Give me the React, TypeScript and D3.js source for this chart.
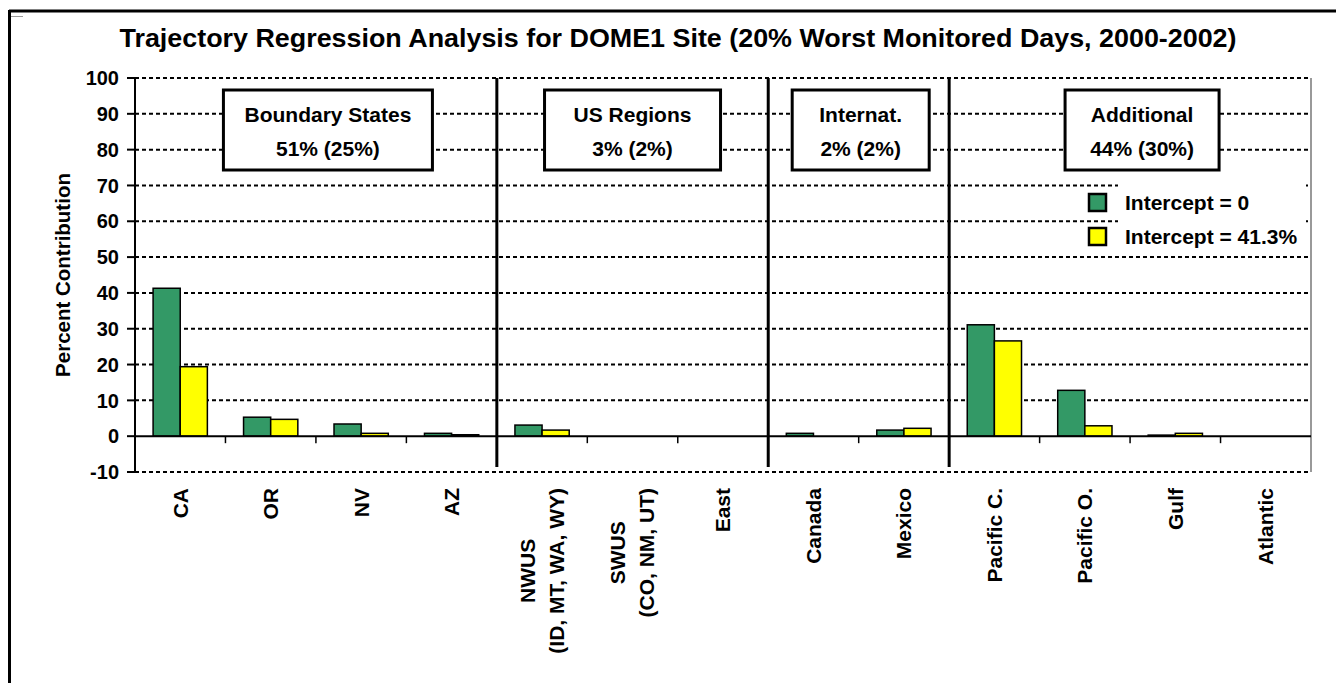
import React, { useEffect, useRef } from 'react';
import * as d3 from 'd3';

const categories = [
  'CA', 'OR', 'NV', 'AZ',
  'NWUS\n(ID, MT, WA, WY)', 'SWUS\n(CO, NM, UT)', 'East',
  'Canada', 'Mexico',
  'Pacific C.', 'Pacific O.', 'Gulf', 'Atlantic',
];
const seriesNames = ['Intercept = 0', 'Intercept = 41.3%'];
const intercept0 = [41.3, 5.3, 3.4, 0.8, 3.1, 0, 0, 0.8, 1.7, 31.1, 12.8, 0.3, 0];
const intercept413 = [19.4, 4.7, 0.8, 0.4, 1.7, 0, 0, 0, 2.2, 26.6, 2.9, 0.8, 0];
const groupNames = ['Boundary States', 'US Regions', 'Internat.', 'Additional'];
const groupShares = ['51% (25%)', '3% (2%)', '2% (2%)', '44% (30%)'];
const groupSizes = [4, 3, 2, 4];
const yTicks = [-10, 0, 10, 20, 30, 40, 50, 60, 70, 80, 90, 100];
const title = 'Trajectory Regression Analysis for DOME1 Site (20% Worst Monitored Days, 2000-2002)';

const W = 1336;
const H = 683;
const colors = ['#339966', '#FFFF00'];
const FONT = 'Arial, "Liberation Sans", Helvetica, sans-serif';

const App: React.FC = () => {
  const svgRef = useRef<SVGSVGElement>(null);

  useEffect(() => {
    if (!svgRef.current) return;
    const svg = d3.select(svgRef.current);
    svg.selectAll('*').remove();

    const left = 135, right = 1311, top = 78, bottom = 472;

    const x = d3.scaleBand<string>().domain(categories).range([left, right]);
    const x1 = d3.scaleBand<string>().domain(seriesNames)
      .range([x.bandwidth() * 0.2, x.bandwidth() * 0.8]);
    const y = d3.scaleLinear().domain([-10, 100]).range([bottom, top]);

    // outer frame
    svg.append('line').attr('x1', 9).attr('x2', W).attr('y1', 11).attr('y2', 11)
      .attr('stroke', '#000').attr('stroke-width', 3);
    svg.append('line').attr('x1', 9.5).attr('x2', 9.5).attr('y1', 10).attr('y2', H)
      .attr('stroke', '#000').attr('stroke-width', 3);
    svg.append('line').attr('x1', 11).attr('x2', 23).attr('y1', 16.5).attr('y2', 16.5)
      .attr('stroke', '#999').attr('stroke-width', 1);

    // title
    svg.append('text')
      .attr('x', 678).attr('y', 47)
      .attr('text-anchor', 'middle')
      .attr('font-family', FONT).attr('font-weight', 'bold').attr('font-size', 25)
      .attr('textLength', 1117).attr('lengthAdjust', 'spacingAndGlyphs')
      .text(title);

    // gridlines
    yTicks.filter(t => t !== 0).forEach(t => {
      svg.append('line')
        .attr('x1', left).attr('x2', right)
        .attr('y1', y(t)).attr('y2', y(t))
        .attr('stroke', '#000').attr('stroke-width', 2)
        .attr('stroke-dasharray', '4,3');
    });

    // right border
    svg.append('line').attr('x1', right).attr('x2', right).attr('y1', top).attr('y2', bottom)
      .attr('stroke', '#777').attr('stroke-width', 1.5);

    // y axis
    const yAxis = svg.append('g');
    yAxis.append('line').attr('x1', left).attr('x2', left).attr('y1', top).attr('y2', bottom)
      .attr('stroke', '#000').attr('stroke-width', 2);
    yTicks.forEach(t => {
      yAxis.append('line').attr('x1', left - 8).attr('x2', left).attr('y1', y(t)).attr('y2', y(t))
        .attr('stroke', '#000').attr('stroke-width', 2);
      yAxis.append('text')
        .attr('x', 119).attr('y', y(t)).attr('dy', '0.36em')
        .attr('text-anchor', 'end')
        .attr('font-family', FONT).attr('font-weight', 'bold').attr('font-size', 20)
        .text(t);
    });
    svg.append('text')
      .attr('transform', `translate(70,${(top + bottom) / 2}) rotate(-90)`)
      .attr('text-anchor', 'middle')
      .attr('font-family', FONT).attr('font-weight', 'bold').attr('font-size', 20.5)
      .text('Percent Contribution');

    // bars
    const values = [intercept0, intercept413];
    categories.forEach((c, i) => {
      seriesNames.forEach((s, j) => {
        const v = values[j][i];
        svg.append('rect')
          .attr('x', (x(c) ?? 0) + (x1(s) ?? 0))
          .attr('y', y(Math.max(0, v)))
          .attr('width', x1.bandwidth())
          .attr('height', Math.abs(y(v) - y(0)))
          .attr('fill', colors[j])
          .attr('stroke', '#000').attr('stroke-width', 1.5);
      });
    });

    // zero line and category ticks
    svg.append('line').attr('x1', left).attr('x2', right).attr('y1', y(0)).attr('y2', y(0))
      .attr('stroke', '#000').attr('stroke-width', 2);
    categories.forEach((c, i) => {
      if (i === 0) return;
      svg.append('line')
        .attr('x1', x(c) ?? 0).attr('x2', x(c) ?? 0)
        .attr('y1', y(0)).attr('y2', y(0) + 7)
        .attr('stroke', '#000').attr('stroke-width', 1.5);
    });

    // group dividers
    let idx = 0;
    const groupStarts: number[] = [];
    groupSizes.forEach((n, g) => {
      groupStarts.push(idx);
      idx += n;
      if (g < groupSizes.length - 1) {
        const xd = x(categories[idx]) ?? 0;
        svg.append('line').attr('x1', xd).attr('x2', xd).attr('y1', top).attr('y2', 467)
          .attr('stroke', '#000').attr('stroke-width', 3);
      }
    });

    // group label boxes
    const boxOffsets = [12, 0, 2, 12];
    const boxWidths = [209, 176, 137, 154];
    groupNames.forEach((name, g) => {
      const first = categories[groupStarts[g]];
      const last = categories[groupStarts[g] + groupSizes[g] - 1];
      const cx = ((x(first) ?? 0) + (x(last) ?? 0) + x.bandwidth()) / 2 + boxOffsets[g];
      const bw = boxWidths[g];
      svg.append('rect')
        .attr('x', cx - bw / 2).attr('y', 90)
        .attr('width', bw).attr('height', 80)
        .attr('fill', '#fff').attr('stroke', '#000').attr('stroke-width', 3);
      svg.append('text')
        .attr('x', cx).attr('y', 122)
        .attr('text-anchor', 'middle')
        .attr('font-family', FONT).attr('font-weight', 'bold').attr('font-size', 21)
        .text(name);
      svg.append('text')
        .attr('x', cx).attr('y', 156)
        .attr('text-anchor', 'middle')
        .attr('font-family', FONT).attr('font-weight', 'bold').attr('font-size', 21)
        .text(groupShares[g]);
    });

    // legend
    svg.append('rect').attr('x', 1118).attr('y', 180).attr('width', 188).attr('height', 70)
      .attr('fill', '#fff');
    seriesNames.forEach((s, j) => {
      const ly = 194 + j * 34;
      svg.append('rect')
        .attr('x', 1089).attr('y', ly).attr('width', 17).attr('height', 17)
        .attr('fill', colors[j]).attr('stroke', '#000').attr('stroke-width', 2.5);
      svg.append('text')
        .attr('x', 1125).attr('y', ly + 16)
        .attr('font-family', FONT).attr('font-weight', 'bold').attr('font-size', 21)
        .text(s);
    });

    // x labels
    categories.forEach(c => {
      const lines = c.split('\n');
      const cx = (x(c) ?? 0) + x.bandwidth() / 2;
      const t = svg.append('text')
        .attr('font-family', FONT).attr('font-weight', 'bold').attr('font-size', 21)
        .attr('text-anchor', 'middle');
      const spans = lines.map((ln, k) =>
        t.append('tspan')
          .attr('x', 0)
          .attr('y', (k - (lines.length - 1) / 2) * 29)
          .attr('dy', '0.35em')
          .text(ln));
      const maxLen = d3.max(spans.map(sp => (sp.node() as SVGTSpanElement).getComputedTextLength())) ?? 0;
      t.attr('transform', `translate(${cx},${488 + maxLen / 2}) rotate(-90)`);
    });
  }, []);

  return (
    <svg ref={svgRef} width={W} height={H}
      style={{ position: 'absolute', left: 0, top: 0, background: '#fff' }} />
  );
};

export default App;
